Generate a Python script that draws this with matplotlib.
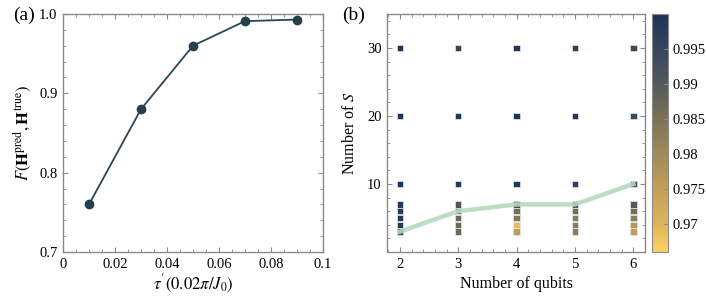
import numpy as np
import matplotlib
matplotlib.use("Agg")
import matplotlib.pyplot as plt
from matplotlib.colors import LinearSegmentedColormap, Normalize
from matplotlib.ticker import MultipleLocator

plt.rcParams["font.family"] = ["Liberation Serif", "DejaVu Serif"]
plt.rcParams["mathtext.fontset"] = "stix"

# panel (a)
tau = [0.01, 0.03, 0.05, 0.07, 0.09]
fidelity = [0.76, 0.88, 0.96, 0.991, 0.993]

# panel (b)
qubits = [2, 3, 4, 5, 6]
s_values = [3, 4, 5, 6, 7, 10, 20, 30]
# fidelity per qubit number, ordered like s_values
fid_grid = {
    2: [0.993, 0.998, 0.998, 0.998, 0.998, 0.9995, 0.9995, 0.9995],
    3: [0.987, 0.987, 0.987, 0.988, 0.991, 0.999, 0.999, 0.995],
    4: [0.976, 0.969, 0.984, 0.986, 0.993, 0.999, 0.999, 0.999],
    5: [0.983, 0.983, 0.983, 0.986, 0.991, 0.997, 0.999, 0.997],
    6: [0.975, 0.977, 0.983, 0.986, 0.990, 0.993, 0.994, 0.994],
}
min_s = [3, 6, 7, 7, 10]

vmin, vmax = 0.966, 1.0
cstops = [(0.966, "#fdd262"), (0.97, "#dcb45c"), (0.975, "#c2a058"),
          (0.98, "#a08a58"), (0.985, "#7c7356"), (0.99, "#55595a"),
          (0.995, "#36465e"), (1.0, "#1c3358")]
cmap = LinearSegmentedColormap.from_list(
    "fid", [((v - vmin) / (vmax - vmin), c) for v, c in cstops])
norm = Normalize(vmin, vmax)

frame = "#8a8a8a"


def style_axes(ax):
    for sp in ax.spines.values():
        sp.set_color(frame)
        sp.set_linewidth(1.0)
    ax.tick_params(which="both", direction="in", top=True, right=True,
                   color=frame, labelsize=10.5, pad=4)
    ax.tick_params(which="major", length=3.5)
    ax.tick_params(which="minor", length=2)


fig = plt.figure(figsize=(7.06, 2.98), dpi=100)
W, H = 706, 298

ax1 = fig.add_axes([63 / W, 1 - 252 / H, (323 - 63) / W, (252 - 14) / H])
ax1.plot(tau, fidelity, color="#2a4656", lw=1.3, marker="o", ms=6,
         markerfacecolor="#24404f", markeredgecolor="#24404f")
ax1.set_xlim(0, 0.1)
ax1.set_ylim(0.7, 1.0)
ax1.set_xticks([0, 0.02, 0.04, 0.06, 0.08, 0.1])
ax1.set_xticklabels(["0", "0.02", "0.04", "0.06", "0.08", "0.1"])
ax1.xaxis.set_minor_locator(MultipleLocator(0.005))
ax1.set_yticks([0.7, 0.8, 0.9, 1.0])
ax1.set_yticklabels(["0.7", "0.8", "0.9", "1.0"])
ax1.yaxis.set_minor_locator(MultipleLocator(0.02))
style_axes(ax1)
ax1.set_xlabel(r"$\tau^{\prime}(0.02\pi/J_0)$", fontsize=12, labelpad=2)
ax1.set_ylabel(r"$F(\mathbf{H}^{\rm pred},\mathbf{H}^{\rm true})$",
               fontsize=12, labelpad=4)
fig.text(13 / W, 1 - 15 / H, "(a)", fontsize=14, va="center")

ax2 = fig.add_axes([387 / W, 1 - 252 / H, (645 - 387) / W, (252 - 14) / H])
for q in qubits:
    ax2.scatter([q] * len(s_values), s_values, c=fid_grid[q], cmap=cmap,
                norm=norm, marker="s", s=22, edgecolors="#e8e8ee",
                linewidths=0.5, zorder=2)
ax2.plot(qubits, min_s, color="#b5d9bd", lw=3.2, alpha=0.9, zorder=3)
ax2.set_xlim(1.78, 6.2)
ax2.set_ylim(0, 35)
ax2.set_xticks(qubits)
ax2.xaxis.set_minor_locator(MultipleLocator(0.2))
ax2.set_yticks([10, 20, 30])
ax2.yaxis.set_minor_locator(MultipleLocator(2))
style_axes(ax2)
ax2.set_xlabel("Number of qubits", fontsize=11.5, labelpad=4)
ax2.set_ylabel(r"Number of $S$", fontsize=11.5, labelpad=6)
fig.text(342 / W, 1 - 15 / H, "(b)", fontsize=14, va="center")

cax = fig.add_axes([652 / W, 1 - 252 / H, (668 - 652) / W, (252 - 14) / H])
sm = plt.cm.ScalarMappable(norm=norm, cmap=cmap)
cb = fig.colorbar(sm, cax=cax)
cb.set_ticks([0.97, 0.975, 0.98, 0.985, 0.99, 0.995])
cb.set_ticklabels(["0.97", "0.975", "0.98", "0.985", "0.99", "0.995"])
cb.outline.set_edgecolor(frame)
cax.tick_params(direction="in", color=frame, length=3, labelsize=10.5)

fig.savefig("out.png", dpi=100)
